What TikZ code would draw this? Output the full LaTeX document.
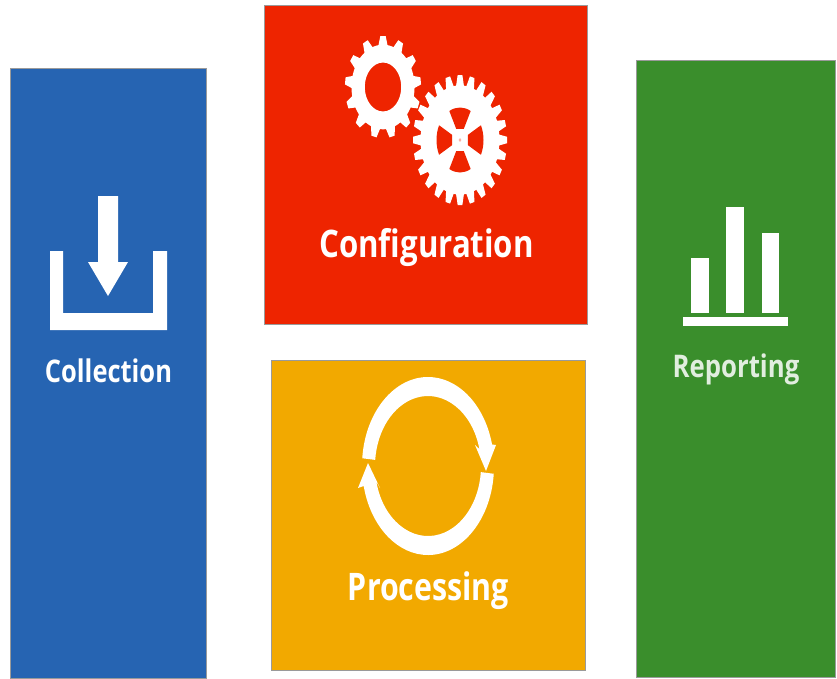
\documentclass[tikz,border=0pt]{standalone}
\usepackage{fontspec}
\setmainfont{Open Sans}
\definecolor{cblue}{HTML}{2664B2}
\definecolor{cred}{HTML}{EE2400}
\definecolor{corange}{HTML}{F2A900}
\definecolor{cgreen}{HTML}{3A8E2C}
\definecolor{cedge}{HTML}{9A9A9A}
\tikzset{
  tile/.style={draw=cedge,line width=.7pt,rectangle,inner sep=0pt,outer sep=0pt},
  label/.style={text=white,inner sep=0pt,font=\fontsize{#1}{#1}\selectfont\bfseries,transform shape},
  icon/.style={fill=white,draw=none}
}
\begin{document}
\begin{tikzpicture}[x=1pt,y=-1pt]
\useasboundingbox (0,0) rectangle (837,678);
\node[tile,fill=cblue,minimum width=196pt,minimum height=610pt] (collection) at (108,373) {};
\node[tile,fill=cred,minimum width=323pt,minimum height=319pt] (configuration) at (425.5,164.5) {};
\node[tile,fill=corange,minimum width=314pt,minimum height=310pt] (processing) at (428,515) {};
\node[tile,fill=cgreen,minimum width=199pt,minimum height=617pt] (reporting) at (735.5,368.5) {};
% download icon
\fill[icon] (50,251) -- (63,251) -- (63,313) -- (153,313) -- (153,251) -- (167,251) -- (167,330) -- (50,330) -- cycle;
\fill[icon] (98,196) -- (118,196) -- (118,262) -- (128,262) -- (108,296) -- (88,262) -- (98,262) -- cycle;
% small gear
\begin{scope}[shift={(383,87)},x=1pt,y=1pt,xscale=.38,yscale=.51]
  \fill[icon,even odd rule] (0,0) circle[radius=83pt] (0,0) circle[radius=48pt];
  \foreach \a in {0,27.692,...,340}{
    \begin{scope}[rotate=\a]
      \fill[icon] (-13,78) -- (-7,100) -- (7,100) -- (13,78) -- cycle;
    \end{scope}}
\end{scope}
% large gear
\begin{scope}[shift={(460,140)},x=1pt,y=1pt,xscale=.47,yscale=.65]
  \fill[icon] (0,0) circle[radius=84pt];
  \foreach \a in {0,15,...,350}{
    \begin{scope}[rotate=\a]
      \fill[icon] (-9,80) -- (-5,100) -- (5,100) -- (9,80) -- cycle;
    \end{scope}}
  \foreach \a in {0,90,180,270}{
    \begin{scope}[rotate=\a]
      \fill[cred] (63:50pt) arc[start angle=63,end angle=117,radius=50pt] -- (-8,17) -- (8,17) -- cycle;
    \end{scope}}
  \fill[cred!35!white] (0,0) circle[radius=3pt];
\end{scope}
% cycle icon
\begin{scope}[shift={(428,466)},x=1pt,y=1pt]
  \fill[icon] (175:66pt and 89pt) arc[start angle=175,end angle=14,x radius=66pt,y radius=89pt]
    -- (68,21) -- (58,-5) -- (47,21) -- (14:53pt and 70pt)
    arc[start angle=14,end angle=175,x radius=53pt,y radius=70pt] -- cycle;
  \fill[icon] (-5:66pt and 89pt) arc[start angle=-5,end angle=-167,x radius=66pt,y radius=89pt]
    -- (-70,-22) -- (-60,3) -- (-48,-22) -- (-167:53pt and 70pt)
    arc[start angle=-167,end angle=-5,x radius=53pt,y radius=70pt] -- cycle;
\end{scope}
% bars
\fill[icon] (691,258) rectangle (709,313);
\fill[icon] (726,207) rectangle (744,313);
\fill[icon] (762,233) rectangle (779,313);
\fill[icon] (683,317) rectangle (788,326);
% labels
\node[label=26,xscale=.98,yscale=1.2] (t1) at (108.5,371) {Collection};
\node[label=33,xscale=.945,yscale=1.15] (t2) at (426.5,248) {Configuration};
\node[label=33,xscale=.92,yscale=1.15] (t3) at (428.5,591) {Processing};
\node[label=26,xscale=.99,yscale=1.2,text=white!85!cgreen] (t4) at (736,369) {Reporting};
\end{tikzpicture}
\end{document}
